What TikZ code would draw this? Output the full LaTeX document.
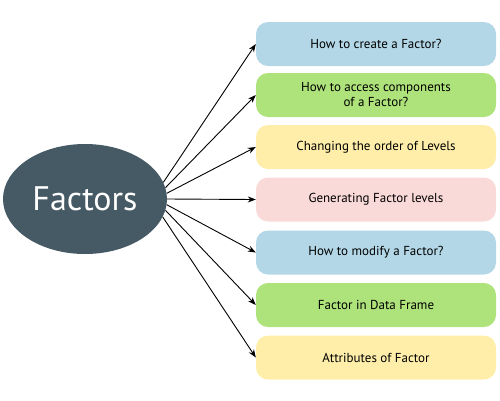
\documentclass[tikz,border=0pt]{standalone}
\usepackage{fontspec}
\setmainfont{PT Sans}
\usetikzlibrary{arrows.meta,shapes.geometric}
\definecolor{cblue}{HTML}{B3D7E6}
\definecolor{cgreen}{HTML}{AEE27A}
\definecolor{cyellow}{HTML}{FEEEAA}
\definecolor{cpink}{HTML}{FADAD8}
\definecolor{cslate}{HTML}{455A64}
\begin{document}
\begin{tikzpicture}[x=1pt,y=-1pt,
  topic/.style={rounded corners=12pt, minimum width=240pt, minimum height=44pt,
    inner sep=0pt, align=center, font=\fontsize{13}{15}\selectfont, text=black},
  link/.style={-{Stealth[length=8pt,width=6pt]}, line width=0.9pt, black}]
\useasboundingbox (0,0) rectangle (500,400);
\node[ellipse, fill=cslate, minimum width=164pt, minimum height=110pt, inner sep=0pt,
  text=white, font=\fontsize{34}{38}\selectfont] (f) at (85,199) {Factors};
\node[topic, fill=cblue]   (b1) at (376,44)    {How to create a Factor?};
\node[topic, fill=cgreen]  (b2) at (376,95)    {How to access components\\of a Factor?};
\node[topic, fill=cyellow] (b3) at (376,147)   {Changing the order of Levels};
\node[topic, fill=cpink]   (b4) at (376,199.5) {Generating Factor levels};
\node[topic, fill=cblue]   (b5) at (376,252.5) {How to modify a Factor?};
\node[topic, fill=cgreen]  (b6) at (376,305)   {Factor in Data Frame};
\node[topic, fill=cyellow] (b7) at (376,357.5) {Attributes of Factor};
\draw[link] (f.12) -- (b1.west);
\draw[link] (f.8)  -- (b2.west);
\draw[link] (f.4)  -- (b3.west);
\draw[link] (f.0)  -- (b4.west);
\draw[link] (f.-4) -- (b5.west);
\draw[link] (f.-8) -- (b6.west);
\draw[link] (f.-13) -- (b7.west);
\end{tikzpicture}
\end{document}
